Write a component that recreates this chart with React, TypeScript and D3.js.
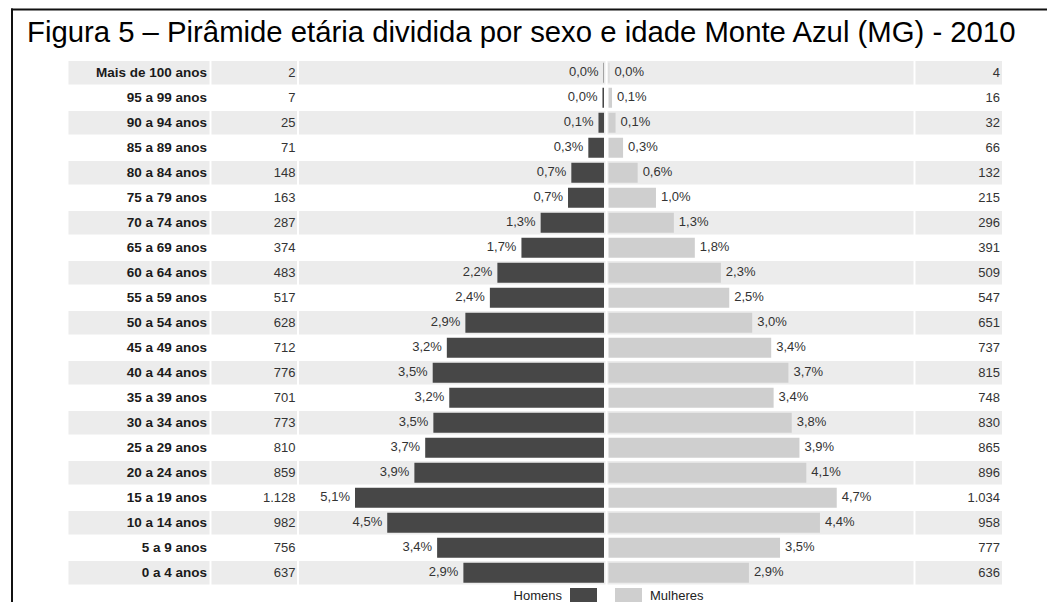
import React from 'react';
import * as d3 from 'd3';

const ageGroups = [
  'Mais de 100 anos', '95 a 99 anos', '90 a 94 anos', '85 a 89 anos', '80 a 84 anos',
  '75 a 79 anos', '70 a 74 anos', '65 a 69 anos', '60 a 64 anos', '55 a 59 anos',
  '50 a 54 anos', '45 a 49 anos', '40 a 44 anos', '35 a 39 anos', '30 a 34 anos',
  '25 a 29 anos', '20 a 24 anos', '15 a 19 anos', '10 a 14 anos', '5 a 9 anos', '0 a 4 anos',
];
const menCounts = [2, 7, 25, 71, 148, 163, 287, 374, 483, 517, 628, 712, 776, 701, 773, 810, 859, 1128, 982, 756, 637];
const menPct = [0.0, 0.0, 0.1, 0.3, 0.7, 0.7, 1.3, 1.7, 2.2, 2.4, 2.9, 3.2, 3.5, 3.2, 3.5, 3.7, 3.9, 5.1, 4.5, 3.4, 2.9];
const womenCounts = [4, 16, 32, 66, 132, 215, 296, 391, 509, 547, 651, 737, 815, 748, 830, 865, 896, 1034, 958, 777, 636];
const womenPct = [0.0, 0.1, 0.1, 0.3, 0.6, 1.0, 1.3, 1.8, 2.3, 2.5, 3.0, 3.4, 3.7, 3.4, 3.8, 3.9, 4.1, 4.7, 4.4, 3.5, 2.9];
const legendLabels = ['Homens', 'Mulheres'];
const title = 'Figura 5 \u2013 Pir\u00e2mide et\u00e1ria dividida por sexo e idade Monte Azul (MG) - 2010';

const W = 1047;
const H = 602;
const FONT = 'Arial, "Liberation Sans", sans-serif';

const ptBR = d3.formatLocale({ decimal: ',', thousands: '.', grouping: [3], currency: ['R$', ''] });
const fmtCount = ptBR.format(',d');
const fmtPct = (v: number) => ptBR.format('.1f')(v) + '%';

const MALE_DARK = '#474747';
const FEMALE_LIGHT = '#cfcfcf';
const BAND_GRAY = '#ececec';

export default function App() {
  // rows
  const y = d3.scaleBand<string>().domain(ageGroups).range([61, 61 + ageGroups.length * 25]);
  const step = y.step();

  // bar length from population count
  const x = d3.scaleLinear().domain([0, 1128]).range([0, 249]);
  const maleZero = 604;
  const femaleZero = 608.5;

  const cols = [
    { x0: 68.5, x1: 209.5 },
    { x0: 211.5, x1: 297 },
    { x0: 299, x1: 605.5 },
    { x0: 607.5, x1: 913.5 },
    { x0: 915.5, x1: 1002 },
  ];

  return (
    <svg width={W} height={H} style={{ position: 'absolute', left: 0, top: 0, display: 'block' }}
      fontFamily={FONT}>
      <rect x={0} y={0} width={W} height={H} fill="#fff" />
      {/* frame */}
      <line x1={11} x2={W} y1={9.5} y2={9.5} stroke="#111" strokeWidth={2} />
      <line x1={12} x2={12} y1={8.5} y2={H} stroke="#111" strokeWidth={2} />

      <text x={27} y={42} fontSize={29.3} fill="#000">{title}</text>

      {/* striped background */}
      {ageGroups.map((g, i) =>
        i % 2 === 0 ? (
          <g key={'band' + i}>
            {cols.map((c, j) => (
              <rect key={j} x={c.x0} y={y(g)!} width={c.x1 - c.x0} height={step - 1.5} fill={BAND_GRAY} />
            ))}
          </g>
        ) : null
      )}

      {ageGroups.map((g, i) => {
        const top = y(g)!;
        const mid = top + step / 2;
        const mw = x(menCounts[i]);
        const fw = x(womenCounts[i]);
        return (
          <g key={g}>
            <text x={207} y={top + 16} textAnchor="end" fontSize={13.5} fontWeight="bold" fill="#1a1a1a">{g}</text>
            <text x={295.5} y={top + 16} textAnchor="end" fontSize={13} fill="#333">{fmtCount(menCounts[i])}</text>
            <rect x={maleZero - mw} y={top + 1.75} width={mw} height={20} fill={MALE_DARK} />
            <text x={maleZero - mw - 5} y={mid + 2} textAnchor="end" fontSize={13} fill="#333">{fmtPct(menPct[i])}</text>
            <rect x={femaleZero} y={top + 1.75} width={fw} height={20} fill={FEMALE_LIGHT} />
            <text x={femaleZero + fw + 5} y={mid + 2} fontSize={13} fill="#333">{fmtPct(womenPct[i])}</text>
            <text x={1000} y={top + 16} textAnchor="end" fontSize={13} fill="#333">{fmtCount(womenCounts[i])}</text>
          </g>
        );
      })}

      {/* legend */}
      <text x={562} y={600} textAnchor="end" fontSize={13} fill="#222">{legendLabels[0]}</text>
      <rect x={570} y={588} width={27} height={20} fill={MALE_DARK} />
      <rect x={615} y={588} width={27} height={20} fill={FEMALE_LIGHT} />
      <text x={650} y={600} fontSize={13} fill="#222">{legendLabels[1]}</text>
    </svg>
  );
}
